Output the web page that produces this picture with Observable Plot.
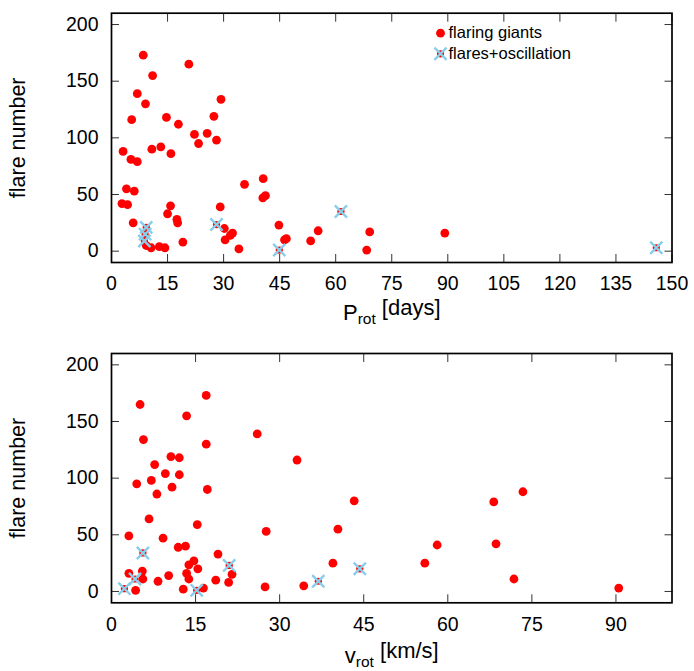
<!DOCTYPE html>
<html><head><meta charset="utf-8">
<script src="https://cdn.jsdelivr.net/npm/d3@7"></script>
<script src="https://cdn.jsdelivr.net/npm/@observablehq/plot@0.6"></script>
<style>
body{margin:0;background:#fff;}
#chart{width:694px;}
#chart svg{display:block;}
</style></head><body><div id="chart"></div>
<script>
// ---- top panel: rotation period ----
const protGiants = [8.5,20.7,11,6.9,29.3,9.1,5.4,14.7,17.9,27.4,22.2,25.6,23.3,28.1,3.1,10.8,13.2,15.9,5.2,6.9,4,6.1,2.8,4.3,15.8,15,29.1,17.5,17.7,5.8,30.2,30.4,9.3,10.6,12.8,14.3,19.1,35.6,40.6,41.2,40.5,32.4,31.8,34.1,44.8,46.8,46.3,55.3,53.3,69.1,68.3,89.2];
const flaresProtGiants = [173,165,155,139,134,130,116,118,112,119,103,104,95,98,88,90,92,86,81,79,55,53,42,41,40,33,39,28,25,25,20,10,5,3,4,3,8,59,64,49,47,16,14,2,23,11,10,18,9,17,1,16];
const protOsc = [9.3,9.0,8.8,28.1,44.9,61.4,145.8];
const flaresProtOsc = [21,15,9,23.5,1,35,3];

// ---- bottom panel: rotation velocity ----
const vrotGiants = [16.9,5.1,13.4,5.7,16.9,10.6,12.1,7.7,9.6,12.1,4.5,7.1,10.8,17.1,8.1,6.7,15.3,3.1,9.2,11.9,13.2,19,14.7,13.8,15.4,13.4,13.8,3.1,5.5,5.6,8.3,10.2,4.3,12.8,16.4,18.6,20.9,26,33.1,43.3,40.4,27.6,21.5,27.4,34.3,39.5,73.4,68.2,58.1,68.6,55.9,71.8,90.5];
const flaresVrotGiants = [173,165,155,134,130,119,118,112,104,103,95,98,92,90,86,64,59,49,47,39,40,33,27,23.5,20,16,11,16,18,11,9,14,1,2,3,10,8,139,116,80,55,53,15,4,5,25,88,79,41,42,25,11,3];
const vrotOsc = [2.3,4.2,5.6,15.2,21,36.9,44.3];
const flaresVrotOsc = [2.5,11,34,1,23,9,20];

// ---- axes ----
const yDomain = [-10, 210];
const yTicks = [0,50,100,150,200];
const protDomain = [0,150];
const protTicks = [0,15,30,45,60,75,90,105,120,135,150];
const vrotDomain = [0,100];
const vrotTicks = [0,15,30,45,60,75,90];
const yLabel = "flare number";
const protLabel = ["P","rot"," [days]"];
const vrotLabel = ["v","rot"," [km/s]"];
const legendLabels = ["flaring giants","flares+oscillation"];

const RED = "#ff0000", BLUE = "#87ceeb";
const FONT = "'Liberation Sans', Arial, Helvetica, sans-serif";

function rows(xs, ys){ return xs.map((x,i)=>({x, y: ys[i]})); }

function panel({xs, ys, oxs, oys, xDomain, xTicks, xLabel, labelDy, height, marginTop, marginBottom, legend}) {
  const giants = rows(xs, ys), osc = rows(oxs, oys);
  const labelText = xLabel.join("");
  const marks = [
    Plot.axisX(xTicks, {anchor:"bottom", tickSize:-8, tickFormat:()=>"", label:null, stroke:"#333"}),
    Plot.axisX(xTicks, {anchor:"top", tickSize:-8, tickFormat:()=>"", label:null, stroke:"#333"}),
    Plot.axisY(yTicks, {anchor:"left", tickSize:-8, tickFormat:()=>"", label:null, stroke:"#333"}),
    Plot.axisY(yTicks, {anchor:"right", tickSize:-8, tickFormat:()=>"", label:null, stroke:"#333"}),
    Plot.axisX(xTicks, {anchor:"bottom", tickSize:0, tickPadding:14, fontSize:19.5, label:null}),
    Plot.axisY(yTicks, {anchor:"left", tickSize:0, tickPadding:13, fontSize:19.5, label:null}),
    Plot.frame({stroke:"black", strokeWidth:1.7}),
    Plot.dot(giants, {x:"x", y:"y", r:4.4, fill:RED}),
    Plot.dot(osc, {x:"x", y:"y", r:3.6, fill:RED}),
    Plot.dot(osc, {x:"x", y:"y", r:5.6, symbol:"times", stroke:BLUE, strokeWidth:2.4}),
    Plot.text([yLabel], {frameAnchor:"left", dx:-93, rotate:-90, textAnchor:"middle", lineAnchor:"middle", fontSize:21.5}),
    Plot.text([labelText], {frameAnchor:"bottom", dy:labelDy, textAnchor:"middle", lineAnchor:"bottom", fontSize:22})
  ];
  if (legend) {
    marks.push(
      Plot.dot([legendLabels[0]], {frameAnchor:"top-left", dx:329, dy:20, r:4.4, fill:RED}),
      Plot.text([legendLabels[0]], {frameAnchor:"top-left", dx:337, dy:20, textAnchor:"start", lineAnchor:"middle", fontSize:16.5}),
      Plot.dot([legendLabels[1]], {frameAnchor:"top-left", dx:329, dy:40.6, r:3.6, fill:RED}),
      Plot.dot([legendLabels[1]], {frameAnchor:"top-left", dx:329, dy:40.6, r:5.6, symbol:"times", stroke:BLUE, strokeWidth:2.4}),
      Plot.text([legendLabels[1]], {frameAnchor:"top-left", dx:337, dy:40.6, textAnchor:"start", lineAnchor:"middle", fontSize:16.5})
    );
  }
  const svg = Plot.plot({
    width: 694, height,
    marginLeft: 111, marginRight: 22.5, marginTop, marginBottom,
    style: {fontFamily: FONT, fontSize: "19px", color: "black", background: "white"},
    x: {domain: xDomain, axis: null},
    y: {domain: yDomain, axis: null},
    marks
  });
  // subscript in axis label
  svg.querySelectorAll("text").forEach(t => {
    if (t.textContent === labelText) {
      t.textContent = "";
      const ns = "http://www.w3.org/2000/svg";
      const a = document.createElementNS(ns, "tspan"); a.textContent = xLabel[0];
      const b = document.createElementNS(ns, "tspan"); b.textContent = xLabel[1];
      b.setAttribute("dy", "0.3em"); b.setAttribute("font-size", "15.5");
      const c = document.createElementNS(ns, "tspan"); c.textContent = xLabel[2];
      c.setAttribute("dy", "-0.42em");
      t.append(a, b, c);
    }
  });
  return svg;
}

const chart = document.getElementById("chart");
chart.append(panel({xs: protGiants, ys: flaresProtGiants, oxs: protOsc, oys: flaresProtOsc,
  xDomain: protDomain, xTicks: protTicks, xLabel: protLabel, labelDy: 57, height: 336, marginTop: 12.7, marginBottom: 74, legend: true}));
chart.append(panel({xs: vrotGiants, ys: flaresVrotGiants, oxs: vrotOsc, oys: flaresVrotOsc,
  xDomain: vrotDomain, xTicks: vrotTicks, xLabel: vrotLabel, labelDy: 60, height: 335, marginTop: 17, marginBottom: 68.7, legend: false}));
</script></body></html>
